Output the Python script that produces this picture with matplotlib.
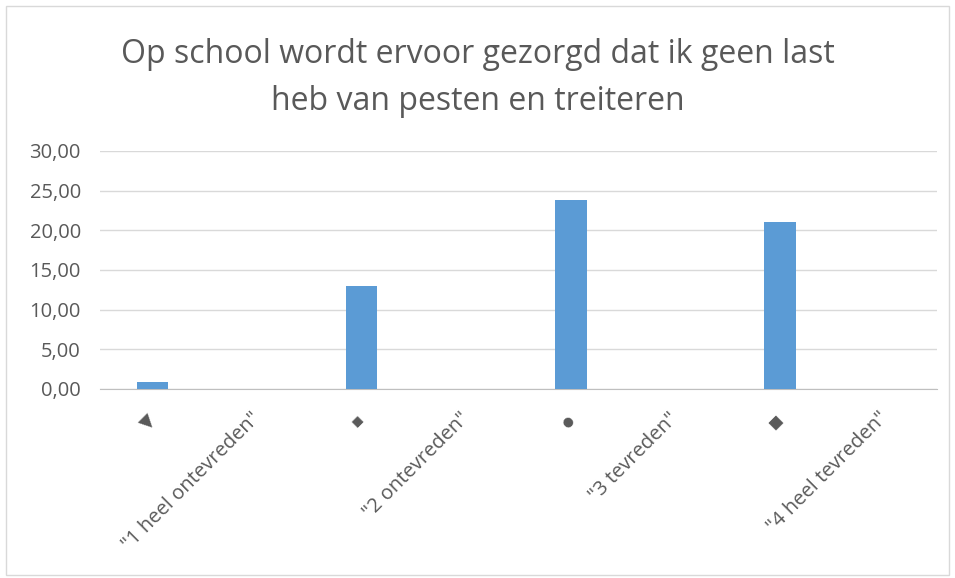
import matplotlib.pyplot as plt
import matplotlib.transforms as mtransforms
from matplotlib.patches import Rectangle
import numpy as np

# categorieen: symbool en label wisselen elkaar af
categories = ['▼', '"1 heel ontevreden"', '▪', '"2 ontevreden"',
              '●', '"3 tevreden"', '■', '"4 heel tevreden"']
values = [0.9, 0, 13.0, 0, 23.8, 0, 21.05, 0]
yticks = [0, 5, 10, 15, 20, 25, 30]
symbol_sizes = [13, 12, 9, 10]
title = 'Op school wordt ervoor gezorgd dat ik geen last\nheb van pesten en treiteren'

plt.rcParams['font.family'] = ['Open Sans', 'DejaVu Sans']
txt = '#595959'

fig = plt.figure(figsize=(9.55, 5.78), dpi=100)
ax = fig.add_axes([0.105, 0.327, 0.876, 0.412])

x = np.arange(len(categories))
ax.bar(x, values, width=0.3, color='#5b9bd5', zorder=3)

ax.set_xlim(-0.5, len(categories) - 0.5)
ax.set_ylim(0, 30)
ax.set_yticks(yticks)
ax.set_yticklabels([f'{v:.2f}'.replace('.', ',') for v in yticks], color=txt, fontsize=14.5)
ax.tick_params(axis='y', length=0, pad=14)
ax.tick_params(axis='x', length=0, pad=24)
ax.set_xticks(x)
ax.set_xticklabels(categories, rotation=45, ha='right', va='center',
                   rotation_mode='anchor', color=txt, fontsize=14.5)

# symbolen iets kleiner en alles iets omhoog
for i, lab in enumerate(ax.get_xticklabels()):
    if i % 2 == 0:
        lab.set_fontsize(symbol_sizes[i // 2])
        off = mtransforms.ScaledTranslation(0, 0.05, fig.dpi_scale_trans)
    else:
        off = mtransforms.ScaledTranslation(0, 0.07, fig.dpi_scale_trans)
    lab.set_transform(lab.get_transform() + off)

ax.grid(axis='y', color='#d9d9d9', linewidth=1, zorder=0)
for s in ['top', 'right', 'left']:
    ax.spines[s].set_visible(False)
ax.spines['bottom'].set_color('#bfbfbf')

fig.text(0.5, 0.865, title, ha='center', va='center', fontsize=23, color=txt,
         linespacing=1.55)

# rand rond de grafiek
fig.patches.append(Rectangle((0.006, 0.005), 0.988, 0.985, transform=fig.transFigure,
                             fill=False, edgecolor='#d9d9d9', linewidth=1))

fig.savefig('out.png', dpi=100)
